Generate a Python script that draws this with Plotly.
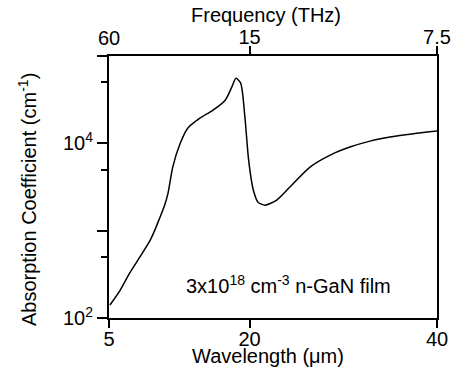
import plotly.graph_objects as go

# Data
wavelength_um = [5.1, 6.2, 7.2, 8.3, 9.4, 9.9, 10.4, 10.9, 11.3, 11.8, 12.6, 13.4, 14.7, 16.1,
                 17.4, 18.1, 18.55, 19.05, 19.5, 19.9, 20.4, 20.9, 21.65, 22.9, 24.3,
                 26.45, 28.6, 30.7, 32.85, 35.0, 37.1, 40.0]
absorption = [141, 209, 327, 500, 780, 1020, 1390, 1900, 2690, 5350, 10000, 14900, 19400, 24000,
              31200, 44000, 55700, 48900, 20000, 6430, 2920, 2120, 1960, 2240, 3160,
              5350, 7330, 9060, 10600, 11800, 12700, 13800]

x_ticks = [5, 20, 40]
x_ticklabels = ["5", "20", "40"]
top_ticks = [20, 40]
top_ticklabels = ["15", "7.5"]
y_major = [100, 1000, 10000, 100000]
y_major_labels = ["10<sup>2</sup>", "", "10<sup>4</sup>", ""]
y_minor = [500, 5000, 50000]

FONT = "Liberation Sans, Arial, sans-serif"
FS = 20

fig = go.Figure()
fig.add_trace(go.Scatter(x=wavelength_um, y=absorption, mode="lines",
                         line=dict(color="black", width=1.5, shape="spline", smoothing=0.7),
                         showlegend=False))
# invisible trace for top axis
fig.add_trace(go.Scatter(x=[5, 40], y=[100, 100], xaxis="x2", mode="lines",
                         line=dict(width=0), showlegend=False, hoverinfo="skip"))

fig.update_layout(
    width=452, height=367,
    margin=dict(l=109, r=15, t=56, b=49),
    paper_bgcolor="white", plot_bgcolor="white",
    font=dict(family=FONT, size=FS, color="black"),
    xaxis=dict(range=[5, 40], tickvals=x_ticks, ticktext=x_ticklabels,
               ticks="outside", ticklen=8, tickwidth=2, tickcolor="black",
               ticklabelstandoff=-6,
               showline=True, linecolor="black", linewidth=2, showgrid=False,
               zeroline=False, automargin=False, tickfont=dict(size=FS)),
    xaxis2=dict(range=[5, 40], overlaying="x", side="top", anchor="y",
                tickvals=top_ticks, ticktext=top_ticklabels,
                ticks="outside", ticklen=8, tickwidth=2, tickcolor="black",
                ticklabelstandoff=-6,
                showline=True, linecolor="black", linewidth=2, showgrid=False,
                zeroline=False, automargin=False, tickfont=dict(size=FS)),
    yaxis=dict(type="log", range=[2, 5], tickvals=y_major, ticktext=y_major_labels,
               ticks="outside", ticklen=10, tickwidth=2, tickcolor="black",
               showline=True, linecolor="black", linewidth=2, mirror=True,
               showgrid=False, zeroline=False, automargin=False, tickfont=dict(size=FS),
               minor=dict(tickvals=y_minor, ticks="outside", ticklen=6, tickwidth=2,
                          tickcolor="black", showgrid=False)),
)

annotations = [
    dict(text="Frequency (THz)", x=266, y=367 - 15),
    dict(text="60", x=109, y=367 - 38),
    dict(text="Wavelength (\u03bcm)", x=268, y=367 - 356),
    dict(text="Absorption Coefficient (cm<sup>-1</sup>)", x=27, y=367 - 200, textangle=-90),
    dict(text="3x10<sup>18</sup> cm<sup>-3</sup> n-GaN film", x=288, y=367 - 284),
]
plot_l, plot_b, plot_w, plot_h = 109, 49, 328, 262
for a in annotations:
    px, py = a["x"], a["y"]
    fig.add_annotation(text=a["text"], xref="paper", yref="paper",
                       x=(px - plot_l) / plot_w, y=(py - plot_b) / plot_h,
                       xanchor="center", yanchor="middle", showarrow=False,
                       textangle=a.get("textangle", 0),
                       font=dict(family=FONT, size=FS, color="black"))

fig.write_html("out.html")
